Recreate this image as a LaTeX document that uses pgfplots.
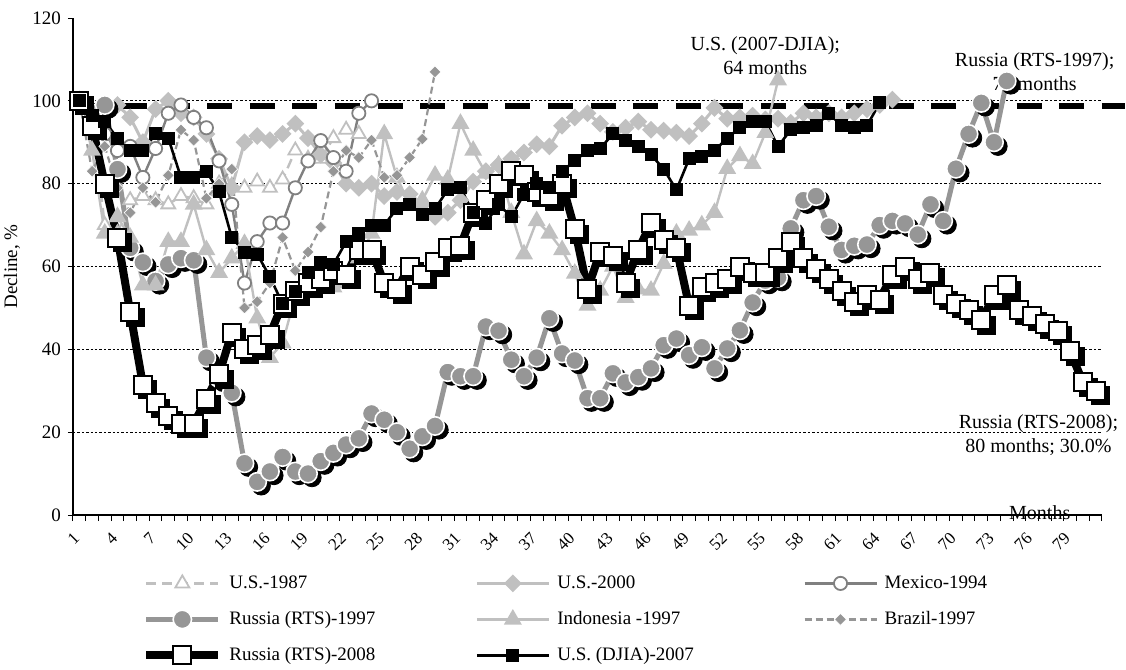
\documentclass[border=0pt]{standalone}
\usepackage{fontspec}
\setmainfont{Liberation Serif}
\usepackage{pgfplots}
\usepackage{pgfplotstable}
\pgfplotsset{compat=1.18}
\definecolor{ltgray}{HTML}{C0C0C0}
\definecolor{mdgray}{HTML}{969696}
\definecolor{dkgray}{HTML}{808080}

% month / value (% of pre-crisis peak)
\pgfplotstableread{
m v
1 100
2 96
3 70
4 68
5 76
6 77
7 76
8 75
9 77
10 76.5
11 75
12 80
13 79.5
14 79
15 80.5
16 79
17 81
18 88
19 86
20 86
21 91
22 93
23 92
}\usEightySeven

\pgfplotstableread{
m v
1 100
2 95
3 98
4 99
5 96
6 90
7 98
8 100
9 97
10 96
11 92
12 86
13 79
14 90
15 91.5
16 90.5
17 92
18 94.5
19 91
20 87
21 85
22 80
23 79
24 80
25 77
26 78
27 77.5
28 75
29 72
30 73
31 76
32 80.5
33 83
34 84.5
35 86
36 87.5
37 89.5
38 89
39 94
40 96
41 97
42 94.5
43 92.5
44 93.5
45 95
46 93
47 92.8
48 92.3
49 91.5
50 94.5
51 98.3
52 95.7
53 96
54 96.4
55 95.5
56 95.7
57 94.7
58 97
59 96
60 97
61 96
62 97
63 98
64 99
65 100.3
}\usTwoThousand

\pgfplotstableread{
m v
1 100
2 96
3 92
4 88
5 89
6 81.5
7 88.5
8 97
9 99
10 96
11 93.5
12 85.5
13 75
14 56
15 66
16 70.5
17 70.5
18 79
19 85.5
20 90.4
21 86.3
22 83
23 97
24 100
}\mexico

\pgfplotstableread{
m v
1 100
2 97
3 99
4 83.5
5 64.5
6 61
7 56.5
8 60.5
9 62
10 61.5
11 38
12 33
13 29.5
14 12.5
15 8
16 10.5
17 14
18 10.5
19 10
20 13
21 15
22 17
23 18.5
24 24.5
25 23
26 20
27 16
28 19
29 21.5
30 34.5
31 33.5
32 33.5
33 45.5
34 44.5
35 37.5
36 33.5
37 38
38 47.5
39 39
40 37.3
41 28.2
42 28.2
43 34.2
44 32
45 33.3
46 35.4
47 41
48 42.6
49 38.6
50 40.5
51 35.4
52 40.2
53 44.6
54 51.3
55 56.6
56 57.3
57 69.2
58 76
59 77
60 69.6
61 64
62 65
63 65.3
64 70
65 71
66 70.4
67 67.7
68 75
69 71
70 83.6
71 92
72 99.5
73 90
74 104.8
}\russiaNinetySeven

\pgfplotstableread{
m v
1 100
2 88
3 68
4 72
5 67
6 55.5
7 55.5
8 66
9 66
10 75
11 64
12 58.5
13 62
14 65.5
15 47.5
16 38
17 41.5
18 53
19 56
20 57
21 55
22 56
23 62
24 68
25 92
26 81.5
27 75
28 76
29 82
30 81
31 94.5
32 88
33 82.5
34 84.5
35 73
36 63
37 71
38 68
39 64
40 58.3
41 50.6
42 54.2
43 60
44 52.5
45 54.5
46 54.2
47 60.7
48 68
49 68.7
50 70
51 73
52 83.6
53 86.7
54 84.8
55 92.3
56 105
}\indonesia

\pgfplotstableread{
m v
1 100
2 83
3 89
4 79
5 73
6 79
7 75.5
8 82
9 93
10 90.5
11 76.5
12 80
13 83.5
14 50
15 51.5
16 56
17 67
18 59
19 63.5
20 69.5
21 83
22 88
23 86.3
24 90.5
25 81.5
26 82
27 86.3
28 90.8
29 107
}\brazil

\pgfplotstableread{
m v
1 100
2 94
3 80
4 67
5 49
6 31.5
7 27
8 24
9 22
10 22
11 28
12 34
13 44
14 40
15 41
16 43.5
17 51
18 54
19 56
20 57
21 59
22 58
23 64
24 64
25 56
26 54.5
27 60
28 58
29 61
30 64.5
31 65
32 73
33 76
34 80
35 83
36 82
37 78
38 77
39 80
40 69
41 54.5
42 63.5
43 62.5
44 56
45 64
46 70.5
47 66.5
48 64.5
49 50.5
50 55
51 56
52 57
53 60
54 58.5
55 58.5
56 62
57 66
58 62
59 59.5
60 57
61 54
62 51.5
63 53
64 52
65 58
66 60
67 57
68 58.5
69 53
70 51
71 49.5
72 47
73 53
74 55.5
75 49.5
76 48
77 46
78 44.5
79 39.5
80 32
81 30
}\russiaTwoThousandEight

\pgfplotstableread{
m v
1 100
2 96.5
3 95
4 91
5 88
6 88
7 92
8 91
9 81.5
10 81.5
11 83
12 78
13 67
14 63.5
15 63
16 57.5
17 51
18 54
19 58.5
20 61
21 60.5
22 66
23 68
24 70
25 70
26 74
27 75
28 72.5
29 74
30 78.5
31 79
32 73
33 70.5
34 75
35 72
36 77.5
37 80
38 79
39 83
40 85.5
41 88
42 88.5
43 92
44 90.5
45 89
46 87
47 83.5
48 78.5
49 86
50 86.5
51 88
52 91
53 93.5
54 95
55 95
56 89
57 93
58 93.5
59 94
60 97
61 94
62 93.5
63 94
64 99.5
}\djia

\begin{document}
\begin{tikzpicture}
\begin{axis}[
  scale only axis,
  width=514.5pt, height=248.5pt,
  xmin=0.5, xmax=81.5, ymin=0, ymax=120,
  axis lines*=left,
  axis line style={line width=0.6pt, black},
  clip=false,
  tick align=outside,
  xtick={1,4,...,79},
  minor xtick={0.5,1.5,...,81.5},
  major x tick style={draw=none},
  minor x tick style={line width=0.5pt, black},
  minor tick length=3pt,
  ytick={0,20,...,120},
  major y tick style={line width=0.5pt, black},
  major tick length=2.5pt,
  extra y ticks={20,40,60,80,100},
  extra y tick labels={},
  extra y tick style={grid=major, major tick length=0pt},
  major grid style={black, line width=0.4pt, dash pattern=on 1.2pt off 1pt},
  /pgf/number format/assume math mode=true,
  ticklabel style={font=\fontsize{9.5}{11}\selectfont},
  xticklabel style={font=\fontsize{8.5}{9}\selectfont, yshift=-5.5pt, xshift=1pt, rotate=45, anchor=east},
  every axis y label/.style={at={(axis description cs:-0.0593,0.5)}, rotate=90, anchor=center},
  ylabel={Decline, \%},
  ylabel style={font=\fontsize{9.5}{11}\selectfont},
  legend columns=3,
  legend style={at={(axis description cs:0.067,-0.1167)}, anchor=north west,
    draw=none, fill=none, inner sep=0pt, row sep=8pt,
    font=\fontsize{9.5}{11}\selectfont,
    nodes={inner sep=0pt, text height=7.5pt, text depth=2.5pt},
    /tikz/every odd column/.append style={column sep=3.5pt},
    /tikz/every even column/.append style={column sep=0pt}},
  legend image code/.code={\draw[mark repeat=2, mark phase=2] plot coordinates {(0pt,0pt) (18pt,0pt) (36pt,0pt)};},
]
\coordinate (o) at (rel axis cs:0,0);

% reference level near the peak
\addplot[forget plot, black, line width=3pt, dash pattern=on 12.5pt off 8.8pt] coordinates {(1,98.7) (83.3,98.7)};

\addplot[ltgray, line width=1.2pt, dash pattern=on 5pt off 3pt, mark=triangle*, mark size=4pt,
  mark options={solid, fill=white, draw=ltgray, line width=0.9pt}] table[x=m, y=v] {\usEightySeven};
\addlegendentry{\makebox[123pt][l]{U.S.-1987}}

\addplot[ltgray, line width=1.5pt, mark=square*, mark size=2.4pt,
  mark options={rotate=45, fill=ltgray, draw=ltgray}] table[x=m, y=v] {\usTwoThousand};
\addlegendentry{\makebox[123pt][l]{U.S.-2000}}

\addplot[dkgray, line width=1.2pt, mark=*, mark size=3.3pt,
  mark options={fill=white, draw=dkgray, line width=0.9pt}] table[x=m, y=v] {\mexico};
\addlegendentry{\makebox[123pt][l]{Mexico-1994}}

\addplot[forget plot, only marks, mark=*, mark size=4.6pt,
  mark options={xshift=2pt, yshift=-2pt, fill=black, draw=black}] table[x=m, y=v] {\russiaNinetySeven};
\addplot[mdgray, line width=2.5pt, mark=*, mark size=4.6pt,
  mark options={fill=mdgray, draw=white, line width=0.8pt}] table[x=m, y=v] {\russiaNinetySeven};
\addlegendentry{\makebox[123pt][l]{Russia (RTS)-1997}}

\addplot[ltgray, line width=1.2pt, mark=triangle*, mark size=4pt,
  mark options={fill=ltgray, draw=ltgray}] table[x=m, y=v] {\indonesia};
\addlegendentry{\makebox[123pt][l]{Indonesia -1997}}

\addplot[mdgray, line width=1.1pt, dash pattern=on 3.5pt off 2pt, mark=square*, mark size=2.1pt,
  mark options={solid, rotate=45, fill=mdgray, draw=white, line width=0.3pt}] table[x=m, y=v] {\brazil};
\addlegendentry{\makebox[123pt][l]{Brazil-1997}}

\addplot[forget plot, only marks, mark=square*, mark size=4.5pt,
  mark options={xshift=2.5pt, yshift=-2.5pt, fill=black, draw=black}] table[x=m, y=v] {\russiaTwoThousandEight};
\addplot[black, line width=4pt, mark=square*, mark size=4.5pt,
  mark options={fill=white, draw=black, line width=1pt}] table[x=m, y=v] {\russiaTwoThousandEight};
\addlegendentry{\makebox[123pt][l]{Russia (RTS)-2008}}

\addplot[black, line width=1.3pt, mark=square*, mark size=2.6pt,
  mark options={fill=black}] table[x=m, y=v] {\djia};
\addlegendentry{\makebox[123pt][l]{U.S. (DJIA)-2007}}

\node[align=center, font=\fontsize{10}{12}\selectfont] at (axis cs:55,110.8) {U.S. (2007-DJIA);\\64 months};
\node[align=center, font=\fontsize{10}{12}\selectfont] at (axis cs:76.2,107.1) {Russia (RTS-1997);\\72 months};
\node[align=center, font=\fontsize{10}{12}\selectfont] at (axis cs:76.5,19.2) {Russia (RTS-2008);\\80 months; 30.0\%};
\node[font=\fontsize{10}{12}\selectfont] at (axis cs:76.6,0.6) {Months};
\end{axis}
\pgfresetboundingbox
\path[use as bounding box] (o) ++(-36.5pt,-77.5pt) rectangle ++(563pt,335pt);
\end{tikzpicture}
\end{document}
